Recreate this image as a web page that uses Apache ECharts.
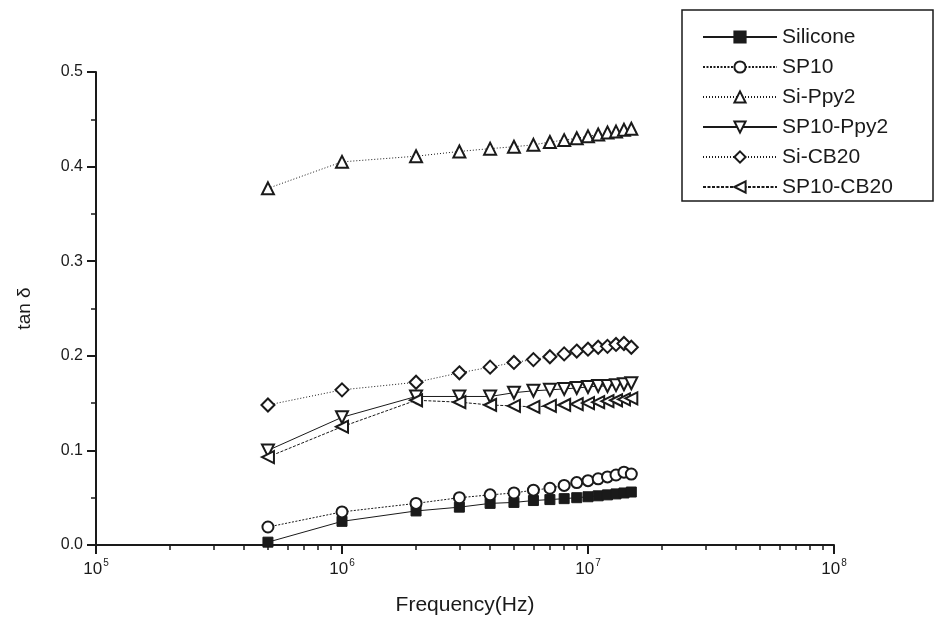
<!DOCTYPE html>
<html>
<head>
<meta charset="utf-8">
<script src="https://cdn.jsdelivr.net/npm/echarts@6/dist/echarts.min.js"></script>
<style>
  html, body { margin: 0; padding: 0; background: #fff; }
  #chart { width: 935px; height: 623px; }
</style>
</head>
<body>
<div id="chart"></div>
<script>
// frequency points (Hz)
const freq = [5e5, 1e6, 2e6, 3e6, 4e6, 5e6, 6e6, 7e6, 8e6, 9e6, 1e7, 1.1e7, 1.2e7, 1.3e7, 1.4e7, 1.5e7]

// tan delta per sample
const silicone = [0.003, 0.025, 0.036, 0.040, 0.044, 0.045, 0.047, 0.048, 0.049, 0.050, 0.051, 0.052, 0.053, 0.054, 0.055, 0.056]
const sp10 = [0.019, 0.035, 0.044, 0.050, 0.053, 0.055, 0.058, 0.060, 0.063, 0.066, 0.068, 0.070, 0.072, 0.074, 0.077, 0.075]
const siPpy2 = [0.377, 0.405, 0.411, 0.416, 0.419, 0.421, 0.423, 0.426, 0.428, 0.430, 0.432, 0.434, 0.436, 0.437, 0.439, 0.440]
const sp10Ppy2 = [0.100, 0.135, 0.157, 0.157, 0.157, 0.161, 0.163, 0.164, 0.165, 0.166, 0.167, 0.168, 0.168, 0.169, 0.170, 0.171]
const siCB20 = [0.148, 0.164, 0.172, 0.182, 0.188, 0.193, 0.196, 0.199, 0.202, 0.205, 0.207, 0.209, 0.210, 0.212, 0.213, 0.209]
const sp10CB20 = [0.093, 0.125, 0.153, 0.151, 0.148, 0.147, 0.146, 0.147, 0.148, 0.149, 0.150, 0.151, 0.152, 0.153, 0.154, 0.155]

const names = ['Silicone', 'SP10', 'Si-Ppy2', 'SP10-Ppy2', 'Si-CB20', 'SP10-CB20']
const xMajor = [1e5, 1e6, 1e7, 1e8]
// minor ticks at 2..9 of each decade
const xMinor = [2e5, 3e5, 4e5, 5e5, 6e5, 7e5, 8e5, 9e5,
  2e6, 3e6, 4e6, 5e6, 6e6, 7e6, 8e6, 9e6,
  2e7, 3e7, 4e7, 5e7, 6e7, 7e7, 8e7, 9e7]

const ink = '#1a1a1a'
const font = 'Liberation Sans'

function pairs(vals) {
  return freq.map((f, i) => [f, vals[i]])
}

function line(name, vals, symbol, dash, opts) {
  return Object.assign({
    name: name,
    type: 'line',
    data: pairs(vals),
    symbol: symbol,
    symbolSize: 10,
    showSymbol: true,
    color: ink,
    lineStyle: { color: ink, width: 1, type: dash },
    itemStyle: { color: ink, borderColor: ink, borderWidth: 1 },
    emphasis: { disabled: true },
    animation: false
  }, opts || {})
}

const chart = echarts.init(document.getElementById('chart'), null, { renderer: 'canvas' })

const option = {
  backgroundColor: '#fff',
  animation: false,
  grid: { left: 96, right: 101, top: 72, bottom: 78, containLabel: false },
  legend: {
    orient: 'vertical',
    left: 697,
    top: 21,
    data: names,
    itemWidth: 74,
    itemHeight: 14,
    itemGap: 8,
    textStyle: { fontFamily: font, fontSize: 21, color: ink, lineHeight: 22 },
    selectedMode: false
  },
  graphic: [{
    type: 'rect',
    shape: { x: 682, y: 10, width: 251, height: 191 },
    style: { fill: 'none', stroke: ink, lineWidth: 1.5 },
    silent: true
  }],
  xAxis: [
    {
      type: 'log',
      logBase: 10,
      min: 1e5,
      max: 1e8,
      name: 'Frequency(Hz)',
      nameLocation: 'middle',
      nameGap: 50,
      nameTextStyle: { fontFamily: font, fontSize: 21, color: ink },
      axisLine: { show: true, lineStyle: { color: ink, width: 2 } },
      axisTick: { show: true, length: 9, lineStyle: { color: ink, width: 2 }, customValues: xMajor },
      axisLabel: {
        customValues: xMajor,
        margin: 13,
        color: ink,
        formatter: function (v) {
          return '{b|10}{s|' + Math.round(Math.log10(v)) + '}'
        },
        rich: {
          b: { fontFamily: font, fontSize: 17, color: ink, lineHeight: 20 },
          s: { fontFamily: font, fontSize: 10, color: ink, padding: [0, 0, 13, 1] }
        }
      },
      splitLine: { show: false }
    },
    {
      type: 'log',
      logBase: 10,
      min: 1e5,
      max: 1e8,
      position: 'bottom',
      axisLine: { show: false },
      axisTick: { show: true, length: 5, lineStyle: { color: ink, width: 1.5 }, customValues: xMinor },
      axisLabel: { show: false },
      splitLine: { show: false }
    }
  ],
  yAxis: {
    type: 'value',
    min: 0,
    max: 0.5,
    interval: 0.1,
    name: 'tan \u03b4',
    nameLocation: 'middle',
    nameGap: 62,
    nameRotate: 90,
    nameTextStyle: { fontFamily: font, fontSize: 19, color: ink },
    axisLine: { show: true, lineStyle: { color: ink, width: 2 } },
    axisTick: { show: true, length: 9, lineStyle: { color: ink, width: 2 } },
    minorTick: { show: true, splitNumber: 2, length: 5, lineStyle: { color: ink, width: 1.5 } },
    axisLabel: {
      margin: 13,
      color: ink,
      fontFamily: font,
      fontSize: 16,
      formatter: function (v) { return v.toFixed(1) }
    },
    splitLine: { show: false }
  },
  series: [
    line(names[0], silicone, 'rect', 'solid', { symbolSize: 10 }),
    line(names[1], sp10, 'emptyCircle', [2, 1.5], { symbolSize: 11 }),
    line(names[2], siPpy2, 'emptyTriangle', [1, 2], { symbolSize: 12 }),
    line(names[3], sp10Ppy2, 'emptyTriangle', 'solid', { symbolSize: 12, symbolRotate: 180 }),
    line(names[4], siCB20, 'emptyDiamond', [1, 2], { symbolSize: 13 }),
    line(names[5], sp10CB20, 'emptyTriangle', [3, 1.5], { symbolSize: 12, symbolRotate: 90 })
  ]
}

chart.setOption(option)
</script>
</body>
</html>
